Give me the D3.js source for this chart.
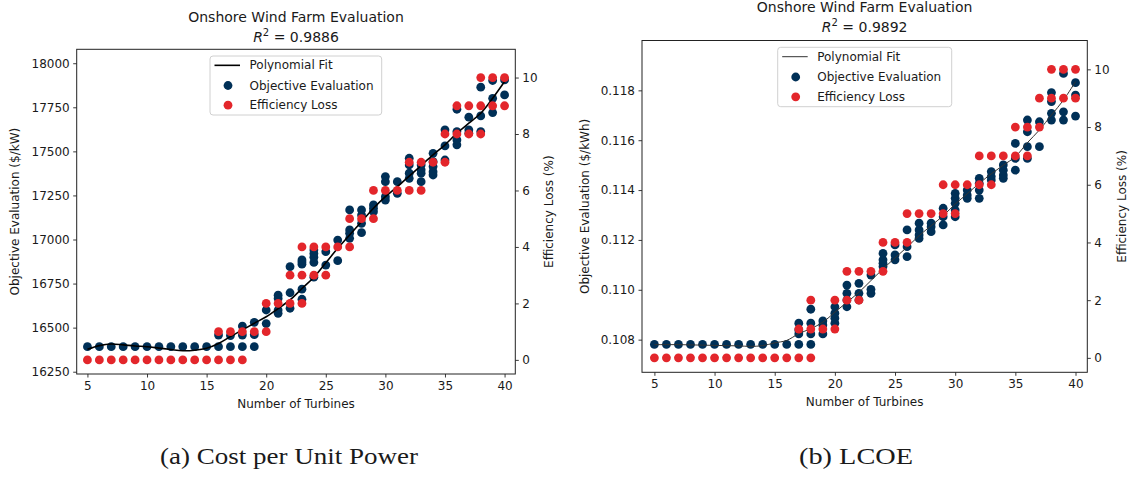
<!DOCTYPE html>
<html><head><meta charset="utf-8">
<script src="https://cdn.jsdelivr.net/npm/d3@7"></script>
<style>
body{margin:0;background:#fff}
svg text{font-family:"DejaVu Sans",sans-serif;fill:#1a1a1a}
</style>
</head><body>
<svg id="chart" width="1139" height="477"></svg>
<script>
// ---------- data ----------
const turbines = [5,6,7,8,9,10,11,12,13,14,15,16,17,18,19,20,21,22,23,24,25,26,27,28,29,30,31,32,33,34,35,36,37,38,39,40];
const xTickLabels = [5,10,15,20,25,30,35,40];
const lossTicks = [0,2,4,6,8,10];
const costTicks = [16250,16500,16750,17000,17250,17500,17750,18000];
const lcoeTicks = [0.108,0.110,0.112,0.114,0.116,0.118];

// (a) cost per unit power ($/kW), objective evaluations per turbine count
const costObjective = [
  [16392],[16392],[16392],[16392],[16392],[16392],[16392],[16392],[16392],[16392],[16392],
  [16392,16458],[16392,16455],[16392,16458,16509],[16392,16460,16530],[16523,16600],
  [16581,16600,16666,16684],[16610,16698,16846],[16661,16718,16860,16872,16884],
  [16786,16870,16900,16920,16941],[16855,16931],[16880,16997],
  [17007,17035,17054,17168],[17039,17092,17139,17168],[17158,17177,17196],
  [17224,17243,17328,17357],[17262,17328],[17347,17376,17423,17461],[17328,17376,17395,17423],
  [17366,17385,17414,17442,17489],[17451,17531,17622],[17537,17565,17612,17739],
  [17603,17622,17694],[17612,17701,17864],[17720,17801,17902],[17820,17905]
];
const costLoss = [
  [0],[0],[0],[0],[0],[0],[0],[0],[0],[0],[0],
  [0,1],[0,1],[0,1],[1],[1,2],[2],[2,3],[2,3,4],[3,4],[3,4],[4],
  [4,5],[5],[5,6],[6],[6],[6,7],[6,7],[7],[7,8],[8,9],[8,9],[8,9,10],[9,10],[9,10]
];
const costFit = [16377,16398,16407,16402,16396,16392,16384,16376,16369,16372,16383,16410,16449,16487,16525,16562,16608,16657,16722,16786,16868,16950,17026,17101,17177,17243,17300,17360,17420,17480,17537,17603,17660,17716,17801,17896];

// (b) LCOE ($/kWh)
const lcoeObjective = [
  [0.10781],[0.10781],[0.10781],[0.10781],[0.10781],[0.10781],[0.10781],[0.10781],[0.10781],[0.10781],[0.10781],[0.10781],
  [0.10781,0.10823,0.10839,0.10866],[0.10781,0.10823,0.10866,0.10922],[0.10823,0.10859,0.10875],
  [0.10866,0.10886,0.10906,0.10932],[0.10932,0.10959,0.10986,0.11019],[0.10959,0.10986,0.11026],
  [0.10986,0.11002,0.11059],[0.11093,0.11106,0.11120,0.11146],[0.11120,0.11140,0.11180],
  [0.11133,0.11173,0.11240],[0.11206,0.11220,0.11240,0.11267],[0.11233,0.11253,0.11267],
  [0.11260,0.11293,0.11327],[0.11293,0.11320,0.11347,0.11367,0.11387],[0.11367,0.11380,0.11400],
  [0.11367,0.11400,0.11427,0.11447],[0.11440,0.11454,0.11474],[0.11447,0.11460,0.11480,0.11501],
  [0.11480,0.11527,0.11587],[0.11527,0.11574,0.11634,0.11681],[0.11574,0.11674],
  [0.11681,0.11708,0.11755,0.11791],[0.11681,0.11714,0.11868],[0.11697,0.11781,0.11831]
];
const lcoeLoss = [
  [0],[0],[0],[0],[0],[0],[0],[0],[0],[0],[0],[0],
  [0,1],[0,1,2],[1],[1,2],[2,3],[2,3],[3],[3,4],[4],[4,5],[5],[5],[5,6],[5,6],[6],[6,7],[6,7],[7],[7,8],[7,8],[8,9],[9,10],[9,10],[9,10]
];
const lcoeFit = [0.10780,0.10780,0.10780,0.10779,0.10778,0.10777,0.10776,0.10775,0.10773,0.10776,0.10787,0.10797,0.10824,0.10844,0.10870,0.10910,0.10950,0.10990,0.11037,0.11084,0.11128,0.11171,0.11217,0.11257,0.11297,0.11344,0.11385,0.11427,0.11465,0.11500,0.11534,0.11590,0.11641,0.11701,0.11761,0.11835];

const seriesNames = ["Polynomial Fit","Objective Evaluation","Efficiency Loss"];
const blue = "#003057", red = "#e3262b";

// ---------- panels ----------
const svg = d3.select("#chart");
const panels = [
  {left:76.7,right:515.3,top:49.3,bottom:374,xDomain:[4.1,40.9],yDomain:[16237,18079],
   obj:costObjective,loss:costLoss,fit:costFit,yTicks:costTicks,fmt:d3.format("d"),
   ylabel:"Objective Evaluation ($/kW)",ylabelX:15,rlabelX:549,titleY:17,r2:"0.9886",
   fitWidth:1.6,fitColor:"#000",legend:{x0:210,x1:381.7,y0:56,y1:115},caption:"(a) Cost per Unit Power",capX:289,capW:258},
  {left:642,right:1087.3,top:40.5,bottom:372.3,xDomain:[3.97,40.98],yDomain:[0.10669,0.1200],
   obj:lcoeObjective,loss:lcoeLoss,fit:lcoeFit,yTicks:lcoeTicks,fmt:d3.format(".3f"),
   ylabel:"Objective Evaluation ($/kWh)",ylabelX:585,rlabelX:1122,titleY:7,r2:"0.9892",
   fitWidth:1,fitColor:"#333",legend:{x0:777.7,x1:951.7,y0:47.3,y1:106.7},caption:"(b) LCOE",capX:856,capW:114}
];

panels.forEach(p => {
  const g = svg.append("g");
  const x = d3.scaleLinear().domain(p.xDomain).range([p.left,p.right]);
  const yL = d3.scaleLinear().domain(p.yDomain).range([p.bottom,p.top]);
  const yR = d3.scaleLinear().domain([-0.5,11]).range([p.bottom,p.top]);
  const r = 4.4;

  const objPts = [];
  turbines.forEach((t,i)=>p.obj[i].forEach(v=>objPts.push([t,v])));
  g.append("g").selectAll("circle").data(objPts).join("circle")
    .attr("cx",d=>x(d[0])).attr("cy",d=>yL(d[1])).attr("r",r).attr("fill",blue);

  g.append("path").datum(turbines.map((t,i)=>[t,p.fit[i]]))
    .attr("fill","none").attr("stroke",p.fitColor).attr("stroke-width",p.fitWidth)
    .attr("d",d3.line().x(d=>x(d[0])).y(d=>yL(d[1])).curve(d3.curveCatmullRom));

  const lossPts = [];
  turbines.forEach((t,i)=>p.loss[i].forEach(v=>lossPts.push([t,v])));
  g.append("g").selectAll("circle").data(lossPts).join("circle")
    .attr("cx",d=>x(d[0])).attr("cy",d=>yR(d[1])).attr("r",r).attr("fill",red);

  const ax = g.append("g").attr("transform",`translate(0,${p.bottom})`)
    .call(d3.axisBottom(x).tickValues(xTickLabels).tickSize(3.5).tickPadding(3.5).tickFormat(d3.format("d")));
  const ay = g.append("g").attr("transform",`translate(${p.left},0)`)
    .call(d3.axisLeft(yL).tickValues(p.yTicks).tickSize(3.5).tickPadding(3.5).tickFormat(p.fmt));
  const ar = g.append("g").attr("transform",`translate(${p.right},0)`)
    .call(d3.axisRight(yR).tickValues(lossTicks).tickSize(3.5).tickPadding(3.5).tickFormat(d3.format("d")));
  [ax,ay,ar].forEach(a=>{
    a.select(".domain").remove();
    a.selectAll("line").attr("stroke","#222").attr("stroke-width",0.9);
    a.selectAll("text").attr("font-size",12).attr("fill","#1a1a1a").attr("font-family","DejaVu Sans");
  });
  g.append("rect").attr("x",p.left).attr("y",p.top).attr("width",p.right-p.left).attr("height",p.bottom-p.top)
    .attr("fill","none").attr("stroke","#222").attr("stroke-width",1);

  const cx = (p.left+p.right)/2;
  g.append("text").attr("x",cx).attr("y",p.bottom+34).attr("text-anchor","middle").attr("font-size",12).text("Number of Turbines");
  g.append("text").attr("transform",`translate(${p.ylabelX},${(p.top+p.bottom)/2}) rotate(-90)`)
    .attr("text-anchor","middle").attr("dominant-baseline","central").attr("font-size",12).text(p.ylabel);
  g.append("text").attr("transform",`translate(${p.rlabelX},${(p.top+p.bottom)/2}) rotate(-90)`)
    .attr("text-anchor","middle").attr("dominant-baseline","central").attr("font-size",12).text("Efficiency Loss (%)");

  g.append("text").attr("x",cx).attr("y",p.titleY).attr("text-anchor","middle").attr("dominant-baseline","central")
    .attr("font-size",14).text("Onshore Wind Farm Evaluation");
  const t2 = g.append("text").attr("x",cx).attr("y",p.titleY+19.5).attr("text-anchor","middle").attr("dominant-baseline","central").attr("font-size",14);
  t2.append("tspan").attr("font-style","italic").text("R");
  t2.append("tspan").attr("font-size",10).attr("dy",-5).text("2");
  t2.append("tspan").attr("dy",5).text(" = "+p.r2);

  const L = p.legend;
  const lg = g.append("g");
  lg.append("rect").attr("x",L.x0).attr("y",L.y0).attr("width",L.x1-L.x0).attr("height",L.y1-L.y0)
    .attr("rx",3).attr("fill","#fff").attr("fill-opacity",0.85).attr("stroke","#d0d0d0").attr("stroke-width",1);
  const rowH = (L.y1-L.y0)/3;
  const ly = i => L.y0 + rowH*(i+0.5) + (i===0?-0.5:0);
  lg.append("line").attr("x1",L.x0+4.5).attr("x2",L.x0+30).attr("y1",ly(0)).attr("y2",ly(0))
    .attr("stroke",p.fitColor).attr("stroke-width",p.fitWidth);
  lg.append("circle").attr("cx",L.x0+18).attr("cy",ly(1)).attr("r",r).attr("fill",blue);
  lg.append("circle").attr("cx",L.x0+18).attr("cy",ly(2)).attr("r",r).attr("fill",red);
  seriesNames.forEach((n,i)=>lg.append("text").attr("x",L.x0+39.5).attr("y",ly(i)).attr("dominant-baseline","central").attr("font-size",12).text(n));

  svg.append("text").attr("x",p.capX).attr("y",464).attr("text-anchor","middle")
    .style("font-family","'Liberation Serif',serif").attr("font-size",23).attr("fill","#000")
    .attr("textLength",p.capW).attr("lengthAdjust","spacingAndGlyphs").text(p.caption);
});
</script>
</body></html>
